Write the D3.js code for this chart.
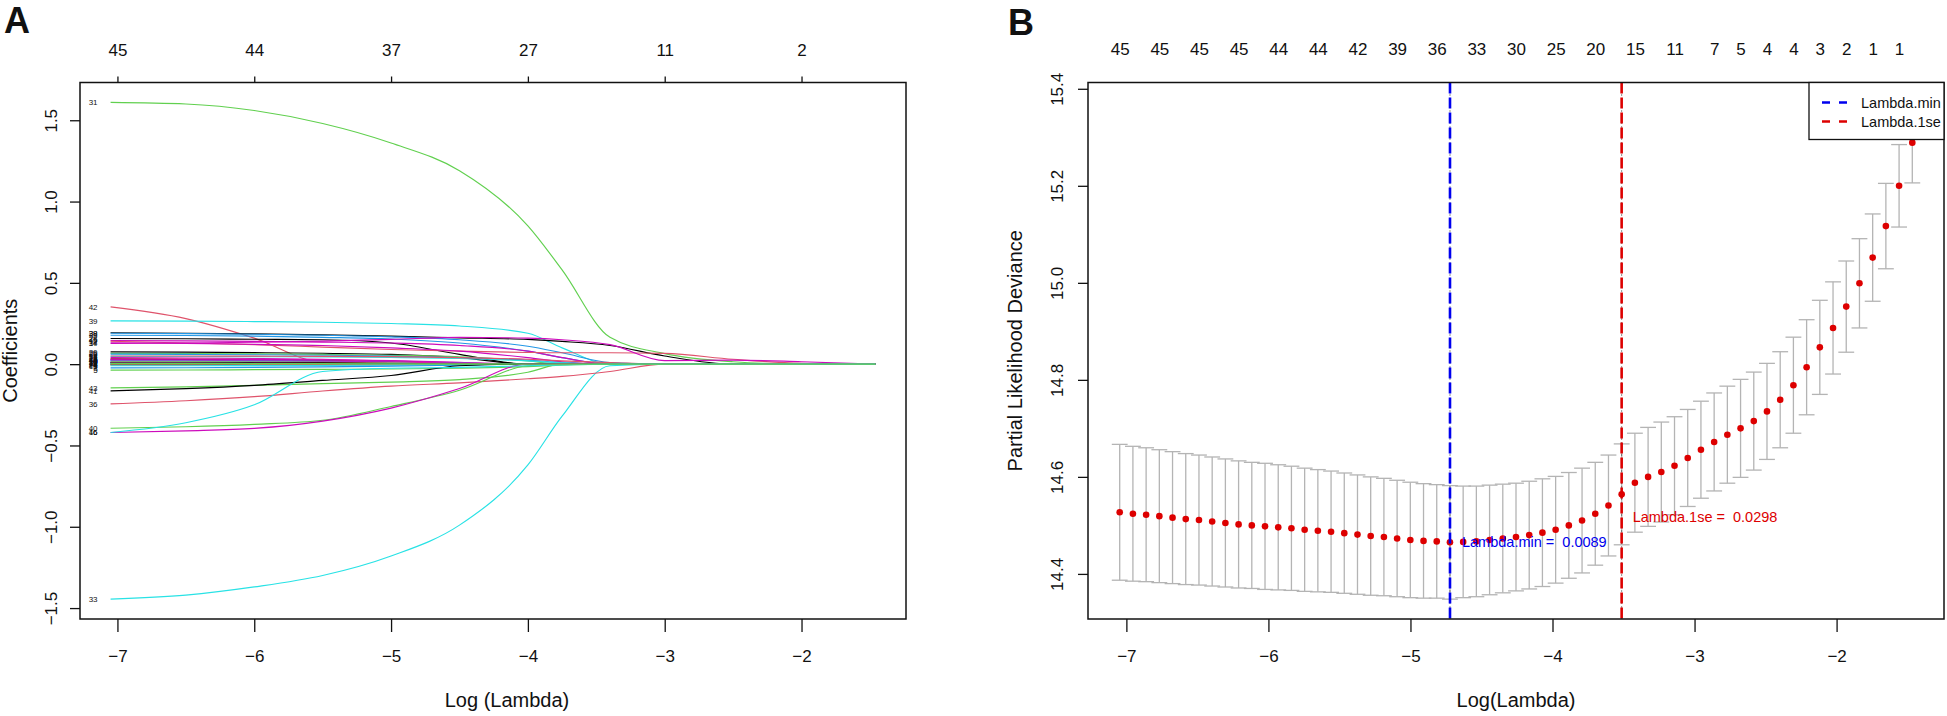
<!DOCTYPE html>
<html>
<head>
<meta charset="utf-8">
<script src="https://d3js.org/d3.v7.min.js"></script>
<style>
  body { margin: 0; background: #fff; }
  svg text { font-family: "Liberation Sans", Arial, Helvetica, sans-serif; fill: #111; }
</style>
</head>
<body>
<div id="chart"></div>
<script>

// ---------- Panel A : coefficient paths ----------
var pathGrid = [-7.05, -6.5, -6, -5.5, -5, -4.5, -4, -3.75, -3.4, -3, -2.5, -2, -1.46];

var coefLabels = ["31","33","42","39","38","29","35","28","45","12","34","17","20","25","26",
                  "32","14","22","13","6","23","4","44","10","9","7","30","21","18","11",
                  "2","27","8","1","24","15","3","5","43","41","36","40","46","16","19"];

// index into the R default palette
var coefColors = [2,4,1,4,0,3,3,0,5,1,5,5,0,2,3,
                  4,1,5,1,0,5,5,3,5,4,2,1,0,0,5,
                  3,4,0,2,1,4,3,2,2,0,1,2,5,4,2];

var coefPaths = [
  [1.61, 1.60, 1.56, 1.48, 1.36, 1.19, 0.85, 0.58, 0.165, 0.065, 0.015, 0, 0],
  [-1.445, -1.42, -1.37, -1.30, -1.18, -0.99, -0.62, -0.32, -0.01, 0, 0, 0, 0],
  [0.352, 0.28, 0.16, 0.012, 0.006, 0.003, 0, 0, 0, 0, 0, 0, 0],
  [0.266, 0.265, 0.262, 0.258, 0.25, 0.235, 0.19, 0.10, 0, 0, 0, 0, 0],
  [0.193, 0.19, 0.186, 0.18, 0.172, 0.162, 0.152, 0.14, 0.115, 0.05, 0, 0, 0],
  [0.19, 0.188, 0.184, 0.178, 0.168, 0.15, 0.11, 0.07, 0.01, 0, 0, 0, 0],
  [0.178, 0.176, 0.172, 0.165, 0.155, 0.13, 0.08, 0.04, 0, 0, 0, 0, 0],
  [0.158, 0.156, 0.153, 0.15, 0.13, 0.06, 0, 0, 0, 0, 0, 0, 0],
  [0.145, 0.143, 0.14, 0.136, 0.13, 0.115, 0.08, 0.04, 0, 0, 0, 0, 0],
  [0.141, 0.13, 0.12, 0.105, 0.09, 0.08, 0.072, 0.07, 0.07, 0.066, 0.03, 0.005, 0],
  [0.132, 0.128, 0.122, 0.115, 0.10, 0.08, 0.04, 0.015, 0, 0, 0, 0, 0],
  [0.127, 0.13, 0.135, 0.142, 0.152, 0.165, 0.16, 0.15, 0.12, 0.022, 0.025, 0.015, 0],
  [0.076, 0.074, 0.071, 0.067, 0.06, 0.04, 0, 0, 0, 0, 0, 0, 0],
  [0.066, 0.065, 0.063, 0.06, 0.055, 0.045, 0.02, 0, 0, 0, 0, 0, 0],
  [0.062, 0.06, 0.058, 0.055, 0.05, 0.04, 0.025, 0.01, 0, 0, 0, 0, 0],
  [0.048, 0.047, 0.046, 0.045, 0.042, 0.035, 0.02, 0.008, 0, 0, 0, 0, 0],
  [0.05, 0.05, 0.049, 0.048, 0.046, 0.04, 0.03, 0.02, 0.01, 0, 0, 0, 0],
  [0.04, 0.038, 0.035, 0.03, 0.02, 0.008, 0, 0, 0, 0, 0, 0, 0],
  [0.035, 0.033, 0.03, 0.025, 0.018, 0.005, 0, 0, 0, 0, 0, 0, 0],
  [0.03, 0.028, 0.026, 0.02, 0.012, 0, 0, 0, 0, 0, 0, 0, 0],
  [0.03, 0.03, 0.029, 0.027, 0.022, 0.012, 0, 0, 0, 0, 0, 0, 0],
  [0.026, 0.025, 0.024, 0.02, 0.012, 0.004, 0, 0, 0, 0, 0, 0, 0],
  [0.022, 0.021, 0.02, 0.017, 0.012, 0.006, 0, 0, 0, 0, 0, 0, 0],
  [0.02, 0.02, 0.019, 0.017, 0.013, 0.007, 0, 0, 0, 0, 0, 0, 0],
  [0.018, 0.017, 0.015, 0.012, 0.008, 0, 0, 0, 0, 0, 0, 0, 0],
  [0.015, 0.014, 0.013, 0.011, 0.007, 0, 0, 0, 0, 0, 0, 0, 0],
  [0.012, 0.012, 0.011, 0.01, 0.007, 0.003, 0, 0, 0, 0, 0, 0, 0],
  [0.01, 0.01, 0.009, 0.007, 0.004, 0, 0, 0, 0, 0, 0, 0, 0],
  [0.008, 0.008, 0.007, 0.006, 0.003, 0, 0, 0, 0, 0, 0, 0, 0],
  [0.006, 0.006, 0.005, 0.004, 0.002, 0, 0, 0, 0, 0, 0, 0, 0],
  [0.004, 0.004, 0.003, 0.002, 0, 0, 0, 0, 0, 0, 0, 0, 0],
  [0.002, 0.002, 0.002, 0.001, 0, 0, 0, 0, 0, 0, 0, 0, 0],
  [-0.002, -0.002, -0.001, 0, 0, 0, 0, 0, 0, 0, 0, 0, 0],
  [-0.004, -0.004, -0.003, -0.002, 0, 0, 0, 0, 0, 0, 0, 0, 0],
  [-0.006, -0.006, -0.005, -0.004, -0.002, 0, 0, 0, 0, 0, 0, 0, 0],
  [-0.01, -0.01, -0.009, -0.008, -0.006, -0.003, 0, 0, 0, 0, 0, 0, 0],
  [-0.023, -0.022, -0.02, -0.017, -0.012, -0.006, 0, 0, 0, 0, 0, 0, 0],
  [-0.037, -0.036, -0.034, -0.032, -0.03, -0.025, -0.015, -0.006, 0, 0, 0, 0, 0],
  [-0.146, -0.14, -0.13, -0.12, -0.11, -0.095, -0.05, 0, 0, 0, 0, 0, 0],
  [-0.164, -0.15, -0.13, -0.10, -0.07, -0.01, 0, 0, 0, 0, 0, 0, 0],
  [-0.244, -0.225, -0.20, -0.165, -0.135, -0.115, -0.09, -0.075, -0.045, 0, 0, 0, 0],
  [-0.394, -0.385, -0.37, -0.345, -0.26, -0.16, -0.01, 0, 0, 0, 0, 0, 0],
  [-0.42, -0.41, -0.395, -0.35, -0.27, -0.15, 0, 0, 0, 0, 0, 0, 0],
  [-0.42, -0.36, -0.25, -0.045, -0.025, -0.02, -0.01, -0.005, 0, 0, 0, 0, 0],
  [0.005, 0.005, 0.004, 0.003, 0.001, 0, 0, 0, 0, 0, 0, 0, 0]
];

var ticksA = [-7, -6, -5, -4, -3, -2];
var topLabelsA = [45, 44, 37, 27, 11, 2];
var yTicksA = [-1.5, -1.0, -0.5, 0.0, 0.5, 1.0, 1.5];

// ---------- Panel B : cross-validation curve ----------
var logLambda = [-7.047, -6.954, -6.861, -6.768, -6.675, -6.582, -6.489, -6.396, -6.303, -6.210,
                 -6.117, -6.024, -5.931, -5.838, -5.745, -5.652, -5.559, -5.466, -5.373, -5.280,
                 -5.187, -5.094, -5.001, -4.908, -4.815, -4.722, -4.629, -4.536, -4.443, -4.350,
                 -4.257, -4.164, -4.071, -3.978, -3.885, -3.792, -3.699, -3.606, -3.513, -3.420,
                 -3.327, -3.234, -3.141, -3.048, -2.955, -2.862, -2.769, -2.676, -2.583, -2.490,
                 -2.397, -2.304, -2.211, -2.118, -2.025, -1.932, -1.839, -1.746, -1.653, -1.560,
                 -1.467];

var cvm = [14.527, 14.524, 14.522, 14.519, 14.516, 14.513, 14.511, 14.508, 14.505, 14.502,
           14.500, 14.498, 14.496, 14.494, 14.491, 14.489, 14.487, 14.484, 14.481, 14.478,
           14.476, 14.473, 14.470, 14.468, 14.467, 14.465, 14.466, 14.467, 14.470, 14.473,
           14.476, 14.480, 14.485, 14.491, 14.500, 14.510, 14.524, 14.541, 14.564, 14.588,
           14.600, 14.610, 14.623, 14.639, 14.656, 14.672, 14.687, 14.700, 14.715, 14.735,
           14.759, 14.789, 14.826, 14.867, 14.907, 14.951, 14.999, 15.052, 15.117, 15.200,
           15.289];

var cvsd = [0.140, 0.139, 0.138, 0.137, 0.136, 0.135, 0.134, 0.133, 0.132, 0.131,
            0.130, 0.130, 0.129, 0.128, 0.127, 0.126, 0.125, 0.124, 0.123, 0.122,
            0.121, 0.120, 0.119, 0.118, 0.117, 0.117, 0.115, 0.114, 0.113, 0.112,
            0.111, 0.111, 0.111, 0.110, 0.109, 0.108, 0.106, 0.104, 0.104, 0.102,
            0.102, 0.103, 0.101, 0.100, 0.100, 0.101, 0.100, 0.101, 0.101, 0.099,
            0.099, 0.099, 0.098, 0.097, 0.095, 0.094, 0.092, 0.090, 0.088, 0.085,
            0.083];

var nzIndex  = [0, 3, 6, 9, 12, 15, 18, 21, 24, 27, 30, 33, 36, 39, 42, 45, 47, 49, 51, 53, 55, 57, 59];
var nzLabels = [45, 45, 45, 45, 44, 44, 42, 39, 36, 33, 30, 25, 20, 15, 11, 7, 5, 4, 4, 3, 2, 1, 1];

var ticksB = [-7, -6, -5, -4, -3, -2];
var yTicksB = [14.4, 14.6, 14.8, 15.0, 15.2, 15.4];

var lambdaMin = 0.0089;
var lambda1se = 0.0298;
var labelY1se = 14.518;

// ---------- setup ----------
var W = 1947, H = 716;
var rPalette = ["#000000", "#DF536B", "#61D04F", "#2297E6", "#28E2E5", "#CD0BBC"];
var blue = "#0000ee", red = "#dd0000";

function minus(v, digits) {
  var s = digits ? Math.abs(v).toFixed(digits) : String(Math.abs(v));
  return (v < 0 ? "\u2212" : "") + s;
}

// R style 4% axis expansion
function padded(ext) {
  var p = (ext[1] - ext[0]) * 0.04;
  return [ext[0] - p, ext[1] + p];
}

var svg = d3.select("#chart").append("svg")
    .attr("width", W).attr("height", H)
    .style("background", "#fff");

function styleAxis(g) {
  g.select(".domain").remove();
  g.selectAll(".tick line").attr("stroke", "#111").attr("stroke-width", 1.3);
  g.selectAll("text").attr("font-size", 17).attr("fill", "#111")
    .attr("font-family", "'Liberation Sans', Arial, sans-serif");
}

// ================= Panel A =================
var boxA = {left: 80, right: 906, top: 82.5, bottom: 619};

var xA = d3.scaleLinear().domain(padded(d3.extent(pathGrid))).range([boxA.left, boxA.right]);
var allCoefs = d3.merge(coefPaths);
var yA = d3.scaleLinear().domain(padded(d3.extent(allCoefs))).range([boxA.bottom, boxA.top]);

var gA = svg.append("g").attr("id", "panelA");

var line = d3.line()
    .x(function(d, i) { return xA(pathGrid[i]); })
    .y(function(d) { return yA(d); })
    .curve(d3.curveMonotoneX);

gA.selectAll(".coef")
  .data(coefPaths)
  .enter()
  .append("path")
    .attr("class", "coef")
    .attr("d", line)
    .attr("fill", "none")
    .attr("stroke", function(d, i) { return rPalette[coefColors[i]]; })
    .attr("stroke-width", 1.15);

// variable labels at the left end
gA.selectAll(".coefLabel")
  .data(coefPaths)
  .enter()
  .append("text")
    .attr("class", "coefLabel")
    .attr("x", xA(pathGrid[0]) - 13)
    .attr("y", function(d) { return yA(d[0]); })
    .attr("dy", "0.35em")
    .attr("text-anchor", "end")
    .attr("font-size", 8)
    .text(function(d, i) { return coefLabels[i]; });

gA.append("rect")
  .attr("x", boxA.left).attr("y", boxA.top)
  .attr("width", boxA.right - boxA.left).attr("height", boxA.bottom - boxA.top)
  .attr("fill", "none").attr("stroke", "#111").attr("stroke-width", 1.5);

gA.append("g")
  .attr("transform", "translate(0," + boxA.bottom + ")")
  .call(d3.axisBottom(xA).tickValues(ticksA).tickSize(13).tickPadding(18)
        .tickFormat(function(d) { return minus(d); }))
  .call(styleAxis);

gA.append("g")
  .attr("transform", "translate(0," + boxA.top + ")")
  .call(d3.axisTop(xA).tickValues(ticksA).tickSize(6).tickPadding(21)
        .tickFormat(function(d, i) { return topLabelsA[i]; }))
  .call(styleAxis);

gA.append("g")
  .attr("transform", "translate(" + boxA.left + ",0)")
  .call(d3.axisLeft(yA).tickValues(yTicksA).tickSize(10)
        .tickFormat(function(d) { return minus(d, 1); }))
  .call(styleAxis)
  .call(function(g) {
    g.selectAll(".tick text")
      .attr("transform", "rotate(-90)")
      .attr("x", 0).attr("y", -23).attr("dy", null)
      .attr("text-anchor", "middle");
  });

gA.append("text")
  .attr("x", 507).attr("y", 707)
  .attr("text-anchor", "middle").attr("font-size", 20)
  .text("Log (Lambda)");

gA.append("text")
  .attr("transform", "translate(17," + ((boxA.top + boxA.bottom) / 2) + ") rotate(-90)")
  .attr("text-anchor", "middle").attr("font-size", 20)
  .text("Coefficients");

gA.append("text")
  .attr("x", 4).attr("y", 33)
  .attr("font-size", 36).attr("font-weight", "bold")
  .text("A");

// ================= Panel B =================
var boxB = {left: 1088, right: 1944, top: 82.5, bottom: 619};

var xB = d3.scaleLinear().domain(padded(d3.extent(logLambda))).range([boxB.left, boxB.right]);
var upper = cvm.map(function(m, i) { return m + cvsd[i]; });
var lower = cvm.map(function(m, i) { return m - cvsd[i]; });
var yB = d3.scaleLinear()
    .domain(padded([d3.min(lower), d3.max(upper)]))
    .range([boxB.bottom, boxB.top]);

var capW = (d3.max(logLambda) - d3.min(logLambda)) * 0.01;

var gB = svg.append("g").attr("id", "panelB");
var idx = d3.range(logLambda.length);

gB.selectAll(".bar")
  .data(idx)
  .enter()
  .append("line")
    .attr("class", "bar")
    .attr("x1", function(i) { return xB(logLambda[i]); })
    .attr("x2", function(i) { return xB(logLambda[i]); })
    .attr("y1", function(i) { return yB(upper[i]); })
    .attr("y2", function(i) { return yB(lower[i]); })
    .attr("stroke", "#b4b4b4").attr("stroke-width", 1.3);

[upper, lower].forEach(function(arr) {
  gB.selectAll(null)
    .data(idx)
    .enter()
    .append("line")
      .attr("x1", function(i) { return xB(logLambda[i] - capW); })
      .attr("x2", function(i) { return xB(logLambda[i] + capW); })
      .attr("y1", function(i) { return yB(arr[i]); })
      .attr("y2", function(i) { return yB(arr[i]); })
      .attr("stroke", "#b4b4b4").attr("stroke-width", 1.3);
});

gB.selectAll(".pt")
  .data(idx)
  .enter()
  .append("circle")
    .attr("class", "pt")
    .attr("cx", function(i) { return xB(logLambda[i]); })
    .attr("cy", function(i) { return yB(cvm[i]); })
    .attr("r", 3.3)
    .attr("fill", red);

// lambda.min / lambda.1se lines
var vlines = [{v: Math.log(lambdaMin), c: blue}, {v: Math.log(lambda1se), c: red}];
vlines.forEach(function(l) {
  gB.append("line")
    .attr("x1", xB(l.v)).attr("x2", xB(l.v))
    .attr("y1", boxB.top).attr("y2", boxB.bottom)
    .attr("stroke", "#222").attr("stroke-width", 1).attr("stroke-dasharray", "1,3");
  gB.append("line")
    .attr("x1", xB(l.v)).attr("x2", xB(l.v))
    .attr("y1", boxB.top).attr("y2", boxB.bottom)
    .attr("stroke", l.c).attr("stroke-width", 2.6).attr("stroke-dasharray", "11,4");
});

gB.append("text")
  .attr("x", xB(Math.log(lambdaMin)) + 12)
  .attr("y", yB(d3.min(cvm)))
  .attr("dy", "0.35em")
  .attr("font-size", 14.5)
  .style("white-space", "pre")
  .style("fill", blue)
  .text("Lambda.min =  " + lambdaMin.toFixed(4));

gB.append("text")
  .attr("x", xB(Math.log(lambda1se)) + 11)
  .attr("y", yB(labelY1se))
  .attr("dy", "0.35em")
  .attr("font-size", 14.5)
  .style("white-space", "pre")
  .style("fill", red)
  .text("Lambda.1se =  " + lambda1se.toFixed(4));

gB.append("rect")
  .attr("x", boxB.left).attr("y", boxB.top)
  .attr("width", boxB.right - boxB.left).attr("height", boxB.bottom - boxB.top)
  .attr("fill", "none").attr("stroke", "#111").attr("stroke-width", 1.5);

gB.append("g")
  .attr("transform", "translate(0," + boxB.bottom + ")")
  .call(d3.axisBottom(xB).tickValues(ticksB).tickSize(13).tickPadding(18)
        .tickFormat(function(d) { return minus(d); }))
  .call(styleAxis);

gB.append("g")
  .attr("transform", "translate(0," + boxB.top + ")")
  .call(d3.axisTop(xB).tickValues(nzIndex.map(function(i) { return logLambda[i]; }))
        .tickSize(0).tickPadding(27.5)
        .tickFormat(function(d, i) { return nzLabels[i]; }))
  .call(styleAxis);

gB.append("g")
  .attr("transform", "translate(" + boxB.left + ",0)")
  .call(d3.axisLeft(yB).tickValues(yTicksB).tickSize(10)
        .tickFormat(function(d) { return d.toFixed(1); }))
  .call(styleAxis)
  .call(function(g) {
    g.selectAll(".tick text")
      .attr("transform", "rotate(-90)")
      .attr("x", 0).attr("y", -25).attr("dy", null)
      .attr("text-anchor", "middle");
  });

gB.append("text")
  .attr("x", (boxB.left + boxB.right) / 2).attr("y", 707)
  .attr("text-anchor", "middle").attr("font-size", 20)
  .text("Log(Lambda)");

gB.append("text")
  .attr("transform", "translate(1022," + ((boxB.top + boxB.bottom) / 2) + ") rotate(-90)")
  .attr("text-anchor", "middle").attr("font-size", 20)
  .text("Partial Likelihood Deviance");

gB.append("text")
  .attr("x", 1008).attr("y", 35)
  .attr("font-size", 36).attr("font-weight", "bold")
  .text("B");

// legend
var legend = gB.append("g").attr("transform", "translate(1809," + boxB.top + ")");
legend.append("rect")
  .attr("width", boxB.right - 1809).attr("height", 57)
  .attr("fill", "#fff").attr("stroke", "#111").attr("stroke-width", 1.3);
var legendItems = [{t: "Lambda.min", c: blue}, {t: "Lambda.1se", c: red}];
legendItems.forEach(function(it, i) {
  var yy = 20 + i * 19;
  legend.append("line")
    .attr("x1", 13).attr("x2", 39).attr("y1", yy).attr("y2", yy)
    .attr("stroke", it.c).attr("stroke-width", 2.6).attr("stroke-dasharray", "8,9");
  legend.append("text")
    .attr("x", 52).attr("y", yy).attr("dy", "0.35em")
    .attr("font-size", 14.5)
    .text(it.t);
});

</script>
</body>
</html>
